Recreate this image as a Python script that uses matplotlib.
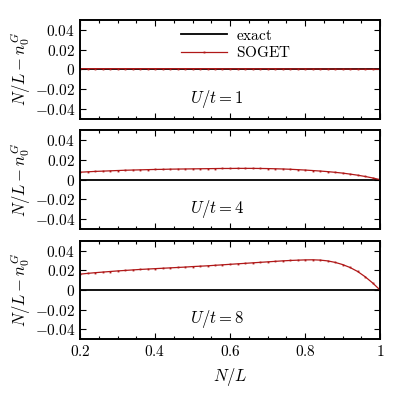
import matplotlib
matplotlib.use('Agg')
import matplotlib.pyplot as plt
from matplotlib.ticker import MultipleLocator, FuncFormatter

plt.rcParams['mathtext.fontset'] = 'cm'
plt.rcParams['font.family'] = 'serif'
plt.rcParams['font.serif'] = ['DejaVu Serif']

# N/L grid
nl = [0.20, 0.22, 0.24, 0.26, 0.28, 0.30, 0.32, 0.34, 0.36, 0.38,
      0.40, 0.42, 0.44, 0.46, 0.48, 0.50, 0.52, 0.54, 0.56, 0.58,
      0.60, 0.62, 0.64, 0.66, 0.68, 0.70, 0.72, 0.74, 0.76, 0.78,
      0.80, 0.82, 0.84, 0.86, 0.88, 0.90, 0.92, 0.94, 0.96, 0.98, 1.00]

# SOGET, U/t = 1
soget_u1 = [0.0006, 0.0006, 0.0006, 0.0006, 0.0006, 0.0006, 0.0006, 0.0006, 0.0006, 0.0006,
            0.0006, 0.0006, 0.0006, 0.0006, 0.0006, 0.0006, 0.0006, 0.0006, 0.0006, 0.0005,
            0.0005, 0.0005, 0.0005, 0.0005, 0.0005, 0.0005, 0.0005, 0.0004, 0.0004, 0.0004,
            0.0004, 0.0003, 0.0003, 0.0003, 0.0002, 0.0002, 0.0002, 0.0001, 0.0001, 0.0000, 0.0000]

# SOGET, U/t = 4
soget_u4 = [0.0075, 0.0079, 0.0083, 0.0086, 0.0089, 0.0092, 0.0095, 0.0097, 0.0099, 0.0101,
            0.0103, 0.0104, 0.0106, 0.0107, 0.0108, 0.0109, 0.0110, 0.0111, 0.0112, 0.0113,
            0.0113, 0.0114, 0.0114, 0.0114, 0.0113, 0.0112, 0.0110, 0.0108, 0.0105, 0.0101,
            0.0097, 0.0092, 0.0087, 0.0081, 0.0074, 0.0066, 0.0056, 0.0045, 0.0032, 0.0017, 0.0000]

# SOGET, U/t = 8
soget_u8 = [0.0160, 0.0168, 0.0175, 0.0181, 0.0187, 0.0193, 0.0198, 0.0203, 0.0208, 0.0212,
            0.0216, 0.0220, 0.0224, 0.0228, 0.0232, 0.0237, 0.0241, 0.0245, 0.0250, 0.0255,
            0.0260, 0.0265, 0.0270, 0.0275, 0.0280, 0.0285, 0.0290, 0.0295, 0.0299, 0.0302,
            0.0305, 0.0306, 0.0303, 0.0295, 0.0280, 0.0258, 0.0228, 0.0188, 0.0135, 0.0072, 0.0000]

exact = [0.0] * len(nl)

panels = [('$U/t=1$', soget_u1), ('$U/t=4$', soget_u4), ('$U/t=8$', soget_u8)]

fig, axes = plt.subplots(3, 1, figsize=(4, 4), dpi=100, sharex=True)
fig.subplots_adjust(left=0.2, right=0.95, top=0.95, bottom=0.152, hspace=0.12)

fmt = FuncFormatter(lambda v, p: '$0$' if abs(v) < 1e-9 else '$%g$' % v)

for i, (ax, (lab, soget)) in enumerate(zip(axes, panels)):
    ax.plot(nl, exact, color='black', lw=1.3, label=r'$\mathrm{exact}$')
    ax.plot(nl, soget, color='#b01818', lw=0.9, marker='s', ms=1.3, mew=0,
            label=r'$\mathrm{SOGET}$')
    ax.set_xlim(0.2, 1.0)
    ax.set_ylim(-0.05, 0.05)
    ax.yaxis.set_major_locator(MultipleLocator(0.02))
    ax.xaxis.set_major_locator(MultipleLocator(0.2))
    ax.xaxis.set_minor_locator(MultipleLocator(0.05))
    ax.yaxis.set_major_formatter(fmt)
    ax.xaxis.set_major_formatter(fmt)
    ax.tick_params(which='both', direction='in', top=True, right=True, labelsize=11)
    ax.tick_params(which='major', length=4, width=0.8)
    ax.tick_params(which='minor', length=2.5, width=0.8)
    for s in ax.spines.values():
        s.set_linewidth(1.4)
    ax.set_ylabel(r'$N/L-n_0^G$', fontsize=12, labelpad=1)
    ax.text(0.457, 0.2, lab, transform=ax.transAxes, ha='center', va='center', fontsize=12)
    if i == 0:
        ax.legend(loc='upper center', bbox_to_anchor=(0.52, 1.05), frameon=False,
                  fontsize=11, handlelength=3.0, handletextpad=0.6, labelspacing=0.15)

axes[-1].set_xlabel('$N/L$', fontsize=12, labelpad=5)

plt.savefig('out.png', dpi=100)
